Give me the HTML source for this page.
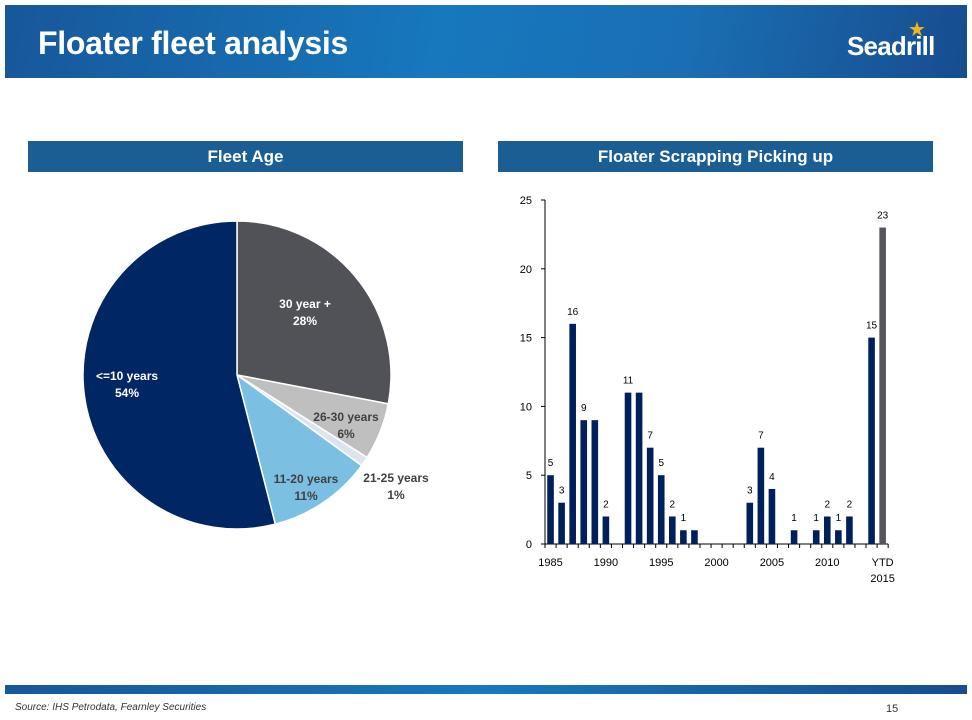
<!DOCTYPE html>
<html><head><meta charset="utf-8"><style>
body{margin:0;width:972px;height:720px;background:#fff;position:relative;overflow:hidden;font-family:"Liberation Sans",sans-serif}
.abs{position:absolute}
</style></head><body>
<div class="abs" style="left:5px;top:5px;width:962px;height:73px;background:linear-gradient(100deg,#17579a 0%,#1778bd 45%,#1a6fb4 70%,#174d8e 100%)"></div>
<div class="abs" style="left:38px;top:25px;color:#fff;font-weight:bold;font-size:32px;letter-spacing:-0.3px">Floater fleet analysis</div>
<div class="abs" style="left:847px;top:31px;color:#fff;font-weight:bold;font-size:26px;letter-spacing:-0.8px">Seadrill</div>
<div class="abs" style="left:908px;top:17px;color:#f2b51c;font-size:20px">★</div>
<div class="abs" style="left:28px;top:141px;width:435px;height:31px;background:#1b5e93;color:#fff;font-weight:bold;font-size:17px;text-align:center;line-height:31px">Fleet Age</div>
<div class="abs" style="left:498px;top:141px;width:435px;height:31px;background:#1b5e93;color:#fff;font-weight:bold;font-size:17px;text-align:center;line-height:31px">Floater Scrapping Picking up</div>
<svg class="abs" id="pie" style="left:0;top:0" width="480" height="600"></svg>
<svg class="abs" id="bars" style="left:490px;top:180px" width="440" height="420"></svg>
<div class="abs" style="left:5px;top:685px;width:962px;height:9px;background:linear-gradient(90deg,#17579a,#1778bd 50%,#174d8e)"></div>
<div class="abs" style="left:15px;top:702px;font-size:10px;font-style:italic;color:#333">Source: IHS Petrodata, Fearnley Securities</div>
<div class="abs" style="left:886px;top:703px;font-size:11px;color:#333">15</div>
<script>
const NS='http://www.w3.org/2000/svg';
function mk(p,t,a){const e=document.createElementNS(NS,t);for(const k in a)e.setAttribute(k,a[k]);p.appendChild(e);return e;}
// Pie data
const pieLabels=['30 year +','26-30 years','21-25 years','11-20 years','<=10 years'];
const pieValues=[28,6,1,11,54];
const pieColors=['#505257','#bfbfbf','#dbe5f1','#7bbfe3','#002663'];
const pie=document.getElementById('pie');
const cx=237,cy=375,r=154;
let tot=pieValues.reduce((a,b)=>a+b,0),acc=0;
const lblPos=[[305,308,'#fff'],[346,421,'#404040'],[396,482,'#404040'],[306,483,'#404040'],[127,380,'#fff']];
pieValues.forEach((v,i)=>{
 const a0=acc/tot*2*Math.PI,a1=(acc+v)/tot*2*Math.PI;acc+=v;
 const x0=cx+r*Math.sin(a0),y0=cy-r*Math.cos(a0),x1=cx+r*Math.sin(a1),y1=cy-r*Math.cos(a1);
 const p=mk(pie,'path',{d:`M${cx},${cy}L${x0},${y0}A${r},${r} 0 ${a1-a0>Math.PI?1:0} 1 ${x1},${y1}Z`,fill:pieColors[i],stroke:'#fff','stroke-width':1.5});
 
 
 const [lx,ly,c]=lblPos[i];
 const t=mk(pie,'text',{x:lx,y:ly,'text-anchor':'middle','font-size':12,'font-weight':'bold',fill:c,'font-family':'Liberation Sans,sans-serif'});
 
 
 mk(t,'tspan',{x:lx,dy:0}).textContent=pieLabels[i];
 mk(t,'tspan',{x:lx,dy:17}).textContent=v+'%';
});
// Bar data
const years=[1985,1986,1987,1988,1989,1990,1991,1992,1993,1994,1995,1996,1997,1998,1999,2000,2001,2002,2003,2004,2005,2006,2007,2008,2009,2010,2011,2012,2013,2014,2015];
const values=[5,3,16,9,9,2,0,11,11,7,5,2,1,1,0,0,0,0,3,7,4,0,1,0,1,2,1,2,0,15,23];
const valueLabels=['5','3','16','9','','2','','11','','7','5','2','1','','','','','','3','7','4','','1','','1','2','1','2','','15','23'];
const yTicks=[0,5,10,15,20,25];
const xTickLabels={1985:'1985',1990:'1990',1995:'1995',2000:'2000',2005:'2005',2010:'2010'};
const g=document.getElementById('bars');
const ox=55,oy=364,slot=11.07,yMax=25,ph=344;
const yS=v=>oy-v/yMax*ph;
const xS=i=>ox+slot*i+slot/2;
mk(g,'line',{x1:ox,y1:yS(0),x2:ox,y2:yS(25),stroke:'#000','stroke-width':1});
mk(g,'line',{x1:ox,y1:oy,x2:ox+slot*years.length,y2:oy,stroke:'#000','stroke-width':1});
yTicks.forEach(t=>{
 mk(g,'line',{x1:ox-4,y1:yS(t),x2:ox,y2:yS(t),stroke:'#000'});
 const tx=mk(g,'text',{x:ox-13,y:yS(t)+4,'text-anchor':'end','font-size':11,fill:'#000'});
 tx.textContent=t;
 
 
});
for(let i=0;i<=years.length;i++) mk(g,'line',{x1:ox+slot*i,y1:oy,x2:ox+slot*i,y2:oy+4,stroke:'#000'});
years.forEach((y,i)=>{
 const last=i===years.length-1;
 const b=mk(g,'rect',{x:xS(i)-3.3,y:yS(values[i]),width:6.6,height:oy-yS(values[i]),fill:last?'#55575b':'#00205b'});
 
 
 if(valueLabels[i]){const t=mk(g,'text',{x:xS(i),y:yS(values[i])-9,'text-anchor':'middle','font-size':10,fill:'#000'});t.textContent=valueLabels[i];
  
  }
 if(xTickLabels[y]){const t=mk(g,'text',{x:xS(i),y:oy+22,'text-anchor':'middle','font-size':11,fill:'#000'});t.textContent=xTickLabels[y];
  
  }
 if(last){const t=mk(g,'text',{x:xS(i),y:oy+22,'text-anchor':'middle','font-size':11,fill:'#000'});t.textContent='YTD';
  
  
  const t2=mk(g,'text',{x:xS(i),y:oy+38,'text-anchor':'middle','font-size':11,fill:'#000'});t2.textContent='2015';
  
  }
});
</script>
</body></html>
